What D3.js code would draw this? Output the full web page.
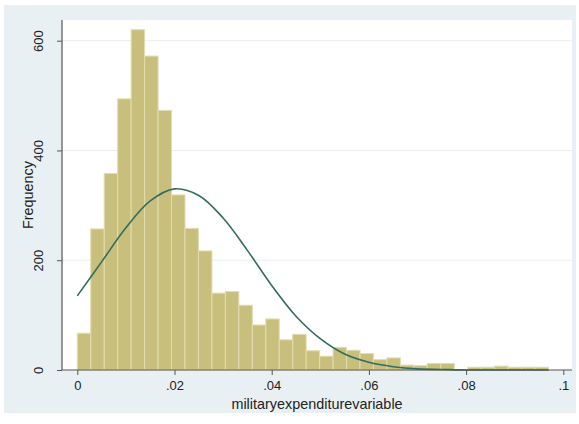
<!DOCTYPE html>
<html>
    <head>
        <script src="https://d3js.org/d3.v7.min.js"></script>
        <style>
            body { margin: 0; background: #fff; }
            text { font-family: "Liberation Sans", Arial, sans-serif; fill: #222; }
        </style>
    </head>
    <body>
        <svg height='424' width='579'></svg>

        <script>
            // histogram counts, bins start at 0 with a fixed width
            const binWidth = 0.00277;
            const counts = [67, 257, 358, 494, 620, 572, 473, 319, 258, 217,
                            140, 143, 118, 82, 93, 55, 65, 35, 25, 41,
                            36, 30, 19, 22, 9, 8, 12, 12, 1, 5,
                            5, 7, 5, 5, 5];

            // normal overlay, values
            const curveX = [0, .005, .01, .015, .02, .025, .03, .035, .04, .045,
                            .05, .055, .06, .065, .07, .075, .08, .085, .09, .097];
            const curveY = [135, 197, 259, 308, 330, 318, 277, 218, 154, 98,
                            57, 29, 14, 6, 2, 1, 0, 0, 0, 0];

            const xTicks = [0, .02, .04, .06, .08, .1];
            const xTickLabels = ['0', '.02', '.04', '.06', '.08', '.1'];
            const yTicks = [0, 200, 400, 600];

            const svg = d3.select('svg');

            const plot = { left: 62, right: 572, top: 20, bottom: 370 };

            const x = d3.scaleLinear()
                .domain([0, 0.1])
                .range([77.3, 563.3]);

            const y = d3.scaleLinear()
                .domain([0, 600])
                .range([plot.bottom, 40.7]);

            // graph region + plot region
            svg.append('rect')
                .attr('x', 4).attr('y', 5)
                .attr('width', 572).attr('height', 408)
                .attr('fill', '#e9f0f3');

            svg.append('rect')
                .attr('x', plot.left).attr('y', plot.top)
                .attr('width', plot.right - plot.left)
                .attr('height', plot.bottom - plot.top)
                .attr('fill', '#ffffff');

            // gridlines
            svg.append('g').selectAll('line')
                .data(yTicks.filter(d => d > 0))
                .enter().append('line')
                    .attr('x1', plot.left).attr('x2', plot.right)
                    .attr('y1', d => y(d)).attr('y2', d => y(d))
                    .attr('stroke', '#eaeeee')
                    .attr('stroke-width', 1);

            // bars
            svg.append('g').selectAll('rect')
                .data(counts)
                .enter().append('rect')
                    .attr('x', (d, i) => x(i * binWidth))
                    .attr('width', x(binWidth) - x(0))
                    .attr('y', d => y(d))
                    .attr('height', d => y(0) - y(d))
                    .attr('fill', '#c9bf7d')
                    .attr('stroke', '#e2dcb0')
                    .attr('stroke-width', 1);

            // normal density line
            const line = d3.line()
                .x((d, i) => x(curveX[i]))
                .y(d => y(d))
                .curve(d3.curveCatmullRom);

            svg.append('path')
                .datum(curveY)
                .attr('d', line)
                .attr('fill', 'none')
                .attr('stroke', '#336d5e')
                .attr('stroke-width', 1.6);

            // axes
            const xAxis = d3.axisBottom(x)
                .tickValues(xTicks)
                .tickFormat((d, i) => xTickLabels[i])
                .tickSize(5)
                .tickPadding(6);

            const gx = svg.append('g')
                .attr('transform', `translate(0,${plot.bottom})`)
                .call(xAxis);
            gx.select('.domain').remove();
            gx.append('line')
                .attr('x1', plot.left).attr('x2', plot.right)
                .attr('stroke', '#555').attr('stroke-width', 1.2);
            gx.selectAll('.tick line').attr('stroke', '#555');
            gx.selectAll('.tick text')
                .style('font-size', '13px')
                .style('font-family', '"Liberation Sans", Arial, sans-serif')
                .attr('fill', '#222');

            const yAxis = d3.axisLeft(y)
                .tickValues(yTicks)
                .tickSize(5)
                .tickFormat(d3.format('d'));

            const gy = svg.append('g')
                .attr('transform', `translate(${plot.left},0)`)
                .call(yAxis);
            gy.select('.domain').remove();
            gy.append('line')
                .attr('y1', plot.top).attr('y2', plot.bottom)
                .attr('stroke', '#555').attr('stroke-width', 1.2);
            gy.selectAll('.tick line').attr('stroke', '#555');
            gy.selectAll('.tick text')
                .attr('x', null).attr('dy', null)
                .attr('transform', 'translate(-22,0) rotate(-90)')
                .attr('text-anchor', 'middle')
                .attr('dominant-baseline', 'middle')
                .style('font-size', '13px')
                .style('font-family', '"Liberation Sans", Arial, sans-serif')
                .attr('fill', '#222');

            // titles
            svg.append('text')
                .attr('x', (plot.left + plot.right) / 2)
                .attr('y', 409)
                .attr('text-anchor', 'middle')
                .style('font-size', '14.4px')
                .text('militaryexpenditurevariable');

            svg.append('text')
                .attr('transform', `translate(33,${(plot.top + plot.bottom) / 2}) rotate(-90)`)
                .attr('text-anchor', 'middle')
                .style('font-size', '14.4px')
                .text('Frequency');
        </script>
    </body>
</html>
